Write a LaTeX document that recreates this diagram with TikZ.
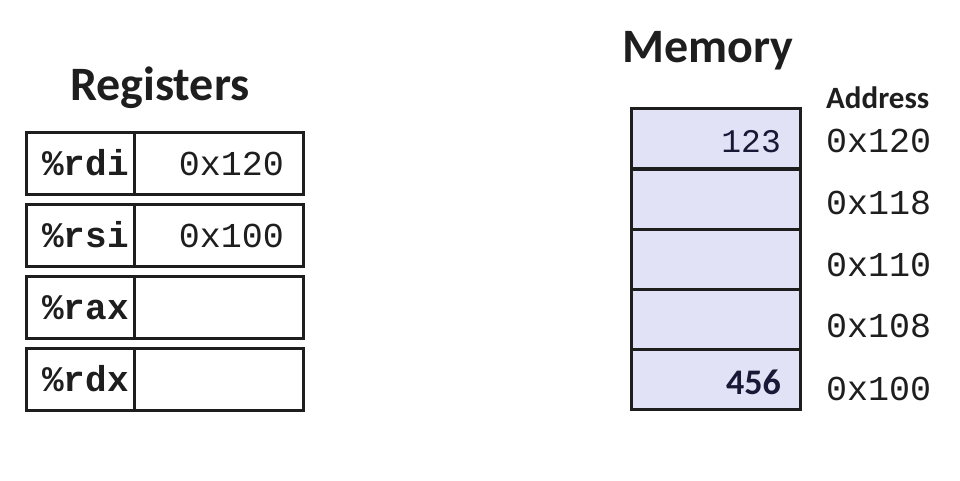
\documentclass[tikz,border=0pt]{standalone}
\usepackage{fontspec}
\setmainfont{Carlito}
\newfontfamily\monofont{Liberation Mono}
\definecolor{memfill}{RGB}{226,226,246}
\definecolor{ink}{RGB}{30,30,30}
\definecolor{navy}{RGB}{25,25,55}
\begin{document}
\begin{tikzpicture}[x=1pt,y=-1pt,
  cell/.style={draw=ink, line width=3pt, minimum height=62pt, inner sep=0pt, anchor=north west},
  mcell/.style={cell, fill=memfill, minimum width=169pt, minimum height=60pt},
  heading/.style={font=\fontsize{48}{48}\selectfont\bfseries, inner sep=0pt, text=ink},
  regname/.style={font=\monofont\fontsize{36}{36}\selectfont\bfseries, inner sep=0pt, anchor=base west, text=ink},
  regval/.style={font=\monofont\fontsize{35}{35}\selectfont, inner sep=0pt, anchor=base east, text=ink},
  addr/.style={font=\monofont\fontsize{35}{35}\selectfont, inner sep=0pt, anchor=base west, text=ink},
  memval/.style={inner sep=0pt, anchor=base east, text=navy}
]
\useasboundingbox (0,0) rectangle (960,480);
% Registers
\node[heading] (regtitle) at (160,88) {Registers};
\foreach \n/\t/\v [count=\i from 0] in {rdi/\%rdi/0x120, rsi/\%rsi/0x100, rax/\%rax/, rdx/\%rdx/}{
  \node[cell, minimum width=108pt] (\n name) at (25,131+72*\i) {};
  \node[cell, minimum width=169pt] (\n val) at (133,131+72*\i) {};
  \node[regname] (\n lab) at (42,175+72*\i) {\t};
  \node[regval] (\n v) at (284,175+72*\i) {\v};
}
% Memory
\node[heading] (memtitle) at (708,51) {Memory};
\node[font=\fontsize{31}{31}\selectfont\bfseries, inner sep=0pt, anchor=base west, text=ink] (addrtitle) at (826,108) {Address};
\foreach \a/\y [count=\i from 0] in {m120/107, m118/168, m110/228, m108/288, m100/348}{
  \node[mcell] (\a) at (630,\y) {};
}
\node[memval, font=\monofont\fontsize{33}{33}\selectfont] (v123) at (781,152) {123};
\node[memval, font=\fontsize{36}{36}\selectfont\bfseries] (v456) at (781,394) {456};
\foreach \t/\y in {0x120/152, 0x118/214, 0x110/276, 0x108/337, 0x100/400}{
  \node[addr] (a\t) at (826,\y) {\t};
}
\end{tikzpicture}
\end{document}
